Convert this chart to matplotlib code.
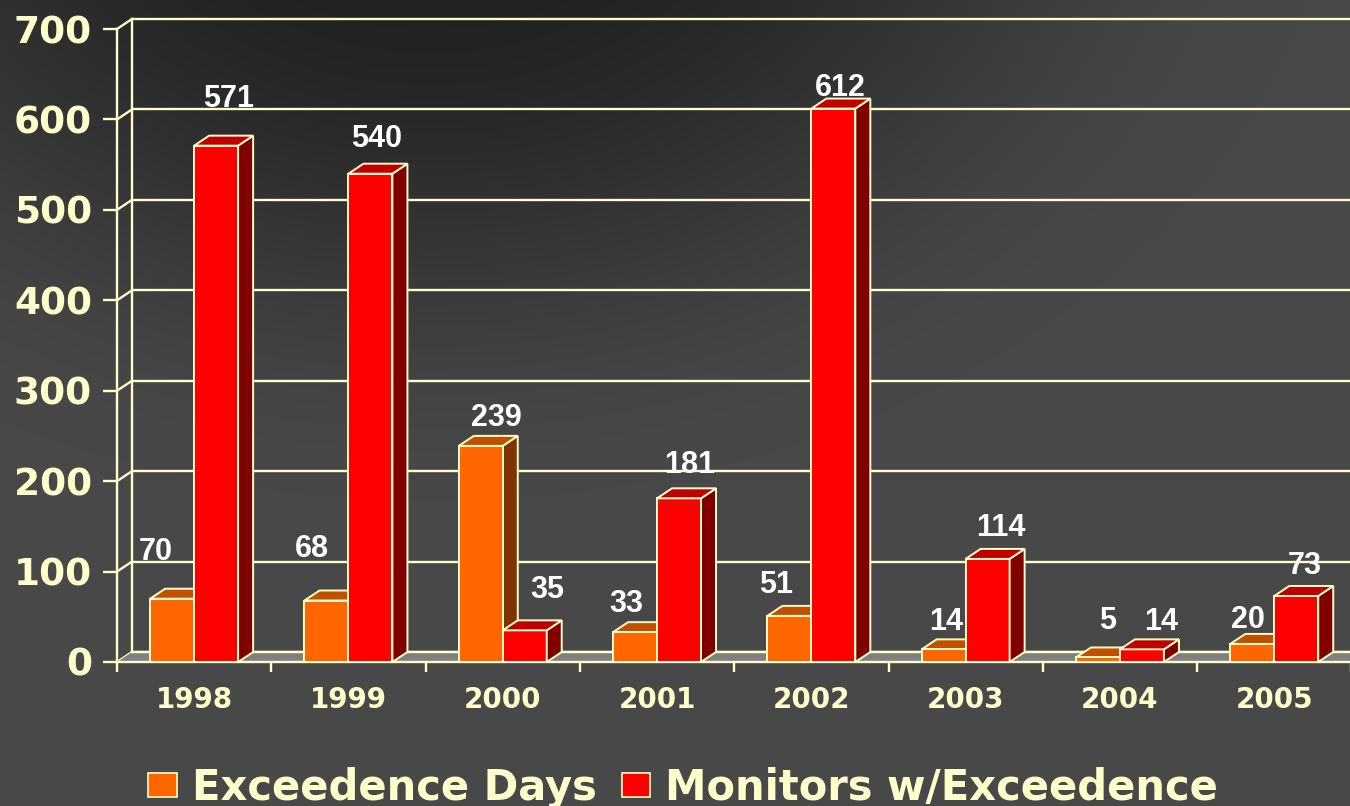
import numpy as np
import matplotlib
matplotlib.use("Agg")
import matplotlib.pyplot as plt
from matplotlib.patches import Polygon, Patch

# ---- data ----
years = ["1998", "1999", "2000", "2001", "2002", "2003", "2004", "2005"]
exceedence_days = [70, 68, 239, 33, 51, 14, 5, 20]
monitors = [571, 540, 35, 181, 612, 114, 14, 73]
series_names = ["Exceedence Days", "Monitors w/Exceedence"]
y_ticks = [0, 100, 200, 300, 400, 500, 600, 700]

# label nudges (pixels): (dx, dy above bar top)
lab_off_orange = [(-16, 47), (-15, 52), (16, 28), (-9, 28), (-13, 31), (2, 27), (10, 36), (-4, 24)]
lab_off_red = [(12, 47), (6, 35), (23, 40), (11, 33), (7, 21), (13, 31), (19, 27), (9, 30)]

CREAM = "#FFFFCC"
W, H = 1350, 806
fig = plt.figure(figsize=(W / 100, H / 100), dpi=100)

# ---- background gradient ----
bg = fig.add_axes([0, 0, 1, 1])
yy, xx = np.mgrid[0:H, 0:W]
d = np.sqrt(((xx - 430) / 900.0) ** 2 + ((yy + 150) / 650.0) ** 2)
t = np.clip((d - 0.2) / 0.8, 0, 1)
t = t * t * (3 - 2 * t)
dark, light = 34, 72
c = (dark + (light - dark) * t) / 255.0
img = np.dstack([c, c, c])
bg.imshow(img, extent=[0, W, H, 0], aspect="auto", interpolation="bilinear")
bg.set_axis_off()
bg.set_zorder(0)

# ---- main axes ----
ax = fig.add_axes([117 / W, 144 / H, 1234.4 / W, 633 / H])
ax.set_zorder(1)
ax.set_facecolor("none")
n = len(years)
ax.set_xlim(0, n)
ax.set_ylim(0, 700)

px_x = 1234.4 / n          # pixels per category
px_y = 633 / 700.0         # pixels per unit
DX = 15 / px_x
DY = 10 / px_y

LW = 1.7
# back wall grid lines and diagonals
for v in y_ticks:
    ax.plot([DX, n + DX], [v + DY, v + DY], color=CREAM, lw=LW, zorder=1, clip_on=False,
            solid_capstyle="butt")
    ax.plot([0, DX], [v, v + DY], color=CREAM, lw=LW, zorder=1, clip_on=False)
ax.plot([DX, DX], [DY, 700 + DY], color=CREAM, lw=LW, zorder=1, clip_on=False)

# floor
floor = Polygon([(0, 0), (n + 1, 0), (n + 1 + DX, DY), (DX, DY)], closed=True,
                facecolor="#808080", edgecolor="none", zorder=1.5, clip_on=False)
ax.add_patch(floor)
ax.plot([DX, n + 1], [DY, DY], color=CREAM, lw=LW, zorder=1.6, clip_on=False)

bw = 0.285
x = np.arange(n)
specs = [
    (exceedence_days, 0.215, "#FF6600", "#C05000", "#7F3300", 3),
    (monitors, 0.50, "#FF0000", "#C00000", "#800000", 5),
]
ELW = 1.4
for vals, off, cf, ct, cs, z in specs:
    lefts = x + off
    ax.bar(lefts, vals, width=bw, align="edge", color=cf, edgecolor=CREAM, lw=ELW,
           zorder=z + 0.5, clip_on=False)
    for l, v in zip(lefts, vals):
        top = Polygon([(l, v), (l + bw, v), (l + bw + DX, v + DY), (l + DX, v + DY)],
                      closed=True, facecolor=ct, edgecolor=CREAM, lw=ELW,
                      zorder=z + (1 if z == 5 else 0), clip_on=False)
        side = Polygon([(l + bw, 0), (l + bw + DX, DY), (l + bw + DX, v + DY), (l + bw, v)],
                       closed=True, facecolor=cs, edgecolor=CREAM, lw=ELW,
                       zorder=z + (1 if z == 5 else 0), clip_on=False)
        ax.add_patch(side)
        ax.add_patch(top)

# data labels
for vals, off, offs in [(exceedence_days, 0.215, lab_off_orange), (monitors, 0.50, lab_off_red)]:
    for i, v in enumerate(vals):
        ax.annotate(str(v), xy=(i + off + bw / 2, v), xytext=offs[i], textcoords="offset pixels",
                    ha="center", va="center", color="white", fontsize=22,
                    fontweight="bold", family="Liberation Sans", zorder=10,
                    annotation_clip=False)

# spines / ticks
for s in ["top", "right"]:
    ax.spines[s].set_visible(False)
for s in ["left", "bottom"]:
    ax.spines[s].set_color(CREAM)
    ax.spines[s].set_linewidth(LW)
    ax.spines[s].set_zorder(2)
ax.set_yticks(y_ticks)
ax.set_yticklabels([str(v) for v in y_ticks])
ax.tick_params(axis="y", colors=CREAM, length=10, width=LW, direction="out", pad=8,
               labelsize=27)
for lab in ax.get_yticklabels():
    lab.set_fontweight("bold")
    lab.set_family("DejaVu Sans")

ax.set_xticks(np.arange(n + 1))
ax.set_xticklabels([])
ax.set_xticks(x + 0.5, minor=True)
ax.set_xticklabels(years, minor=True)
ax.tick_params(axis="x", which="major", colors=CREAM, length=7, width=LW, direction="out")
ax.tick_params(axis="x", which="minor", length=0, pad=17, labelsize=20, labelcolor=CREAM)
for lab in ax.get_xticklabels(minor=True):
    lab.set_fontweight("bold")
    lab.set_family("DejaVu Sans")

# legend
handles = [Patch(facecolor="#FF6600", edgecolor=CREAM, lw=1.2, label=series_names[0]),
           Patch(facecolor="#FF0000", edgecolor=CREAM, lw=1.2, label=series_names[1])]
leg = fig.legend(handles=handles, loc="lower center", bbox_to_anchor=(0.506, -0.024), ncol=2,
                 frameon=False, prop={"family": "DejaVu Sans", "weight": "bold", "size": 30},
                 handlelength=0.68, handleheight=0.52, handletextpad=0.36, columnspacing=0.6,
                 borderaxespad=0)
for tx in leg.get_texts():
    tx.set_color(CREAM)

fig.savefig("out.png", dpi=100)
